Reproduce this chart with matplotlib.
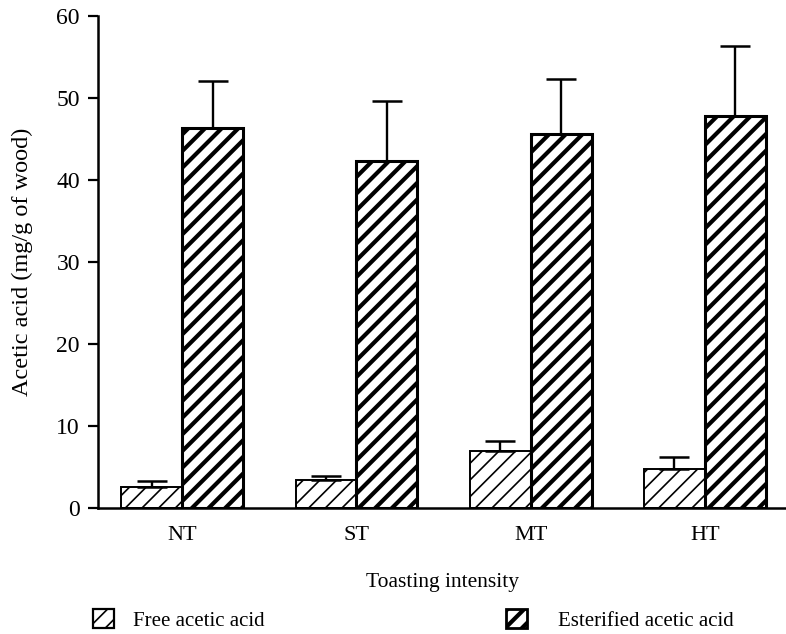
import numpy as np
import matplotlib
matplotlib.use("Agg")
import matplotlib.pyplot as plt
from matplotlib.patches import Patch

# Podaci (ocitano sa slike)
categories = ["NT", "ST", "MT", "HT"]
free_mean = [2.5, 3.4, 6.9, 4.7]
free_err = [0.8, 0.5, 1.3, 1.5]
ester_mean = [46.4, 42.4, 45.7, 47.9]
ester_err = [5.7, 7.3, 6.7, 8.5]
y_ticks = [0, 10, 20, 30, 40, 50, 60]

plt.rcParams["font.family"] = ["Liberation Serif", "DejaVu Serif"]

fig = plt.figure(figsize=(7.86, 6.34), dpi=100)
ax = fig.add_axes([0.1247, 0.199, 0.8753, 0.775])

x = np.arange(len(categories))
w = 0.35

def hatch_lw(patches, lw):
    for p in patches:
        if hasattr(p, "set_hatch_linewidth"):
            p.set_hatch_linewidth(lw)

plt.rcParams["hatch.linewidth"] = 1.2
free_bars = ax.bar(x - w/2, free_mean, w, color="white", edgecolor="black",
                   linewidth=1.4, hatch="//", label="Free acetic acid")
hatch_lw(free_bars, 1.2)
plt.rcParams["hatch.linewidth"] = 3.0
ester_bars = ax.bar(x + w/2, ester_mean, w, color="white", edgecolor="black",
                    linewidth=2.2, hatch="//", label="Esterified acetic acid")
hatch_lw(ester_bars, 3.0)

ax.errorbar(x - w/2, free_mean, yerr=[np.zeros(4), free_err], fmt="none",
            ecolor="black", elinewidth=1.7, capsize=10.8, capthick=1.8)
ax.errorbar(x + w/2, ester_mean, yerr=[np.zeros(4), ester_err], fmt="none",
            ecolor="black", elinewidth=1.7, capsize=10.8, capthick=1.8)

ax.set_xlim(-0.484, 3.466)
ax.set_ylim(0, 60)
ax.set_yticks(y_ticks)
ax.set_yticklabels([str(t) for t in y_ticks])
ax.set_xticks(x)
ax.set_xticklabels(categories)
ax.tick_params(axis="y", direction="out", length=7, width=1.6, labelsize=17, pad=6)
ax.tick_params(axis="x", length=0, labelsize=16, pad=13)

ax.spines["top"].set_visible(False)
ax.spines["right"].set_visible(False)
ax.spines["left"].set_linewidth(1.8)
ax.spines["bottom"].set_linewidth(1.8)

ax.set_ylabel("Acetic acid (mg/g of wood)", fontsize=17.5, labelpad=17)
ax.set_xlabel("Toasting intensity", fontsize=15.5, labelpad=20)

# Legenda ispod grafa
plt.rcParams["hatch.linewidth"] = 1.2
h_free = Patch(facecolor="white", edgecolor="black", hatch="//", linewidth=1.6)
leg1 = fig.legend(handles=[h_free], labels=["Free acetic acid"], loc="center left",
                  bbox_to_anchor=(0.095, 0.022), frameon=False, fontsize=15,
                  handlelength=1.0, handleheight=1.0, handletextpad=0.9)
hatch_lw(leg1.get_patches(), 1.2)

plt.rcParams["hatch.linewidth"] = 3.0
h_ester = Patch(facecolor="white", edgecolor="black", hatch="//", linewidth=2.0)
leg2 = fig.legend(handles=[h_ester], labels=["Esterified acetic acid"], loc="center left",
                  bbox_to_anchor=(0.620, 0.022), frameon=False, fontsize=15,
                  handlelength=1.0, handleheight=1.0, handletextpad=1.5)
hatch_lw(leg2.get_patches(), 3.0)

fig.savefig("out.png", dpi=100)
